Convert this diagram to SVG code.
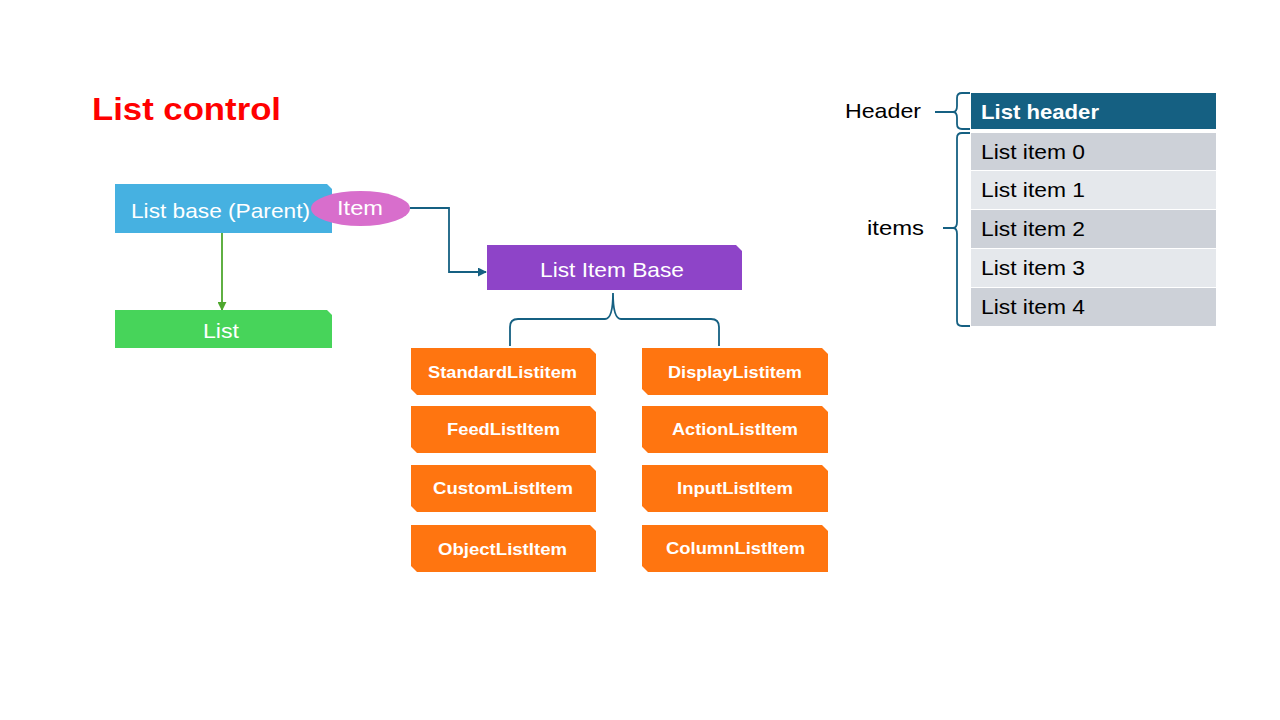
<svg xmlns="http://www.w3.org/2000/svg" width="1280" height="720" viewBox="0 0 1280 720">
<defs>
<style>
text{font-family:"Liberation Sans",Arial,sans-serif}
.w{fill:#fff;font-size:21px}
.o{fill:#FF7510}
.ot{fill:#fff;font-size:16.5px;font-weight:bold}
.blk{fill:#000;font-size:21px}
.row1{fill:#CDD1D8}
.row2{fill:#E5E8EC}
.conn{fill:none;stroke:#156082;stroke-width:1.8}
</style>
<marker id="arB" viewBox="0 0 10 10" refX="9" refY="5" markerWidth="5" markerHeight="5" orient="auto"><path d="M0,0L10,5L0,10z" fill="#156082"/></marker>
<marker id="arG" viewBox="0 0 10 10" refX="9" refY="5" markerWidth="5" markerHeight="5" orient="auto"><path d="M0,0L10,5L0,10z" fill="#4EA72E"/></marker>
</defs>
<rect width="1280" height="720" fill="#fff"/>
<text x="92" y="120" textLength="189" lengthAdjust="spacingAndGlyphs" style="fill:#FF0000;font-size:32px;font-weight:bold">List control</text>

<g id="connectors">
<line x1="222" y1="233" x2="222" y2="310" stroke="#4EA72E" stroke-width="1.8" marker-end="url(#arG)"/>
<polyline class="conn" points="410,208 449,208 449,272 486,272" marker-end="url(#arB)"/>
<path class="conn" d="M613,293 Q613,319 605,319 L518,319 Q510,319 510,327 L510,346 M613,293 Q613,319 621,319 L711,319 Q719,319 719,327 L719,346"/>
</g>

<g id="listbase">
<path d="M115,184 H327 L332,189 V233 H115 Z" fill="#46B1E1"/>
<text x="131" y="218" class="w" textLength="179" lengthAdjust="spacingAndGlyphs">List base (Parent)</text>
</g>
<g id="item">
<ellipse cx="360.5" cy="208.5" rx="49.5" ry="17.5" fill="#D86ECC"/>
<text x="337" y="215" class="w" textLength="46" lengthAdjust="spacingAndGlyphs">Item</text>
</g>
<g id="list">
<path d="M115,310 H327 L332,315 V348 H115 Z" fill="#47D45A"/>
<text x="203" y="338" class="w" textLength="36" lengthAdjust="spacingAndGlyphs">List</text>
</g>
<g id="listitembase">
<path d="M487,245 H736 L742,251 V290 H487 Z" fill="#8E44C8"/>
<text x="540" y="277" class="w" textLength="144" lengthAdjust="spacingAndGlyphs">List Item Base</text>
</g>

<g id="standard"><path class="o" d="M411,348 H590 L596,354 V395 H417 L411,389 Z"/><text x="428" y="378" class="ot" textLength="149" lengthAdjust="spacingAndGlyphs">StandardListitem</text></g>
<g id="feed"><path class="o" d="M411,406 H590 L596,412 V453 H417 L411,447 Z"/><text x="447" y="435" class="ot" textLength="113" lengthAdjust="spacingAndGlyphs">FeedListItem</text></g>
<g id="custom"><path class="o" d="M411,465 H590 L596,471 V512 H417 L411,506 Z"/><text x="433" y="494" class="ot" textLength="140" lengthAdjust="spacingAndGlyphs">CustomListItem</text></g>
<g id="object"><path class="o" d="M411,525 H590 L596,531 V572 H417 L411,566 Z"/><text x="438" y="555" class="ot" textLength="129" lengthAdjust="spacingAndGlyphs">ObjectListItem</text></g>
<g id="display"><path class="o" d="M642,348 H822 L828,354 V395 H648 L642,389 Z"/><text x="668" y="378" class="ot" textLength="134" lengthAdjust="spacingAndGlyphs">DisplayListitem</text></g>
<g id="action"><path class="o" d="M642,406 H822 L828,412 V453 H648 L642,447 Z"/><text x="672" y="435" class="ot" textLength="126" lengthAdjust="spacingAndGlyphs">ActionListItem</text></g>
<g id="input"><path class="o" d="M642,465 H822 L828,471 V512 H648 L642,506 Z"/><text x="677" y="494" class="ot" textLength="116" lengthAdjust="spacingAndGlyphs">InputListItem</text></g>
<g id="column"><path class="o" d="M642,525 H822 L828,531 V572 H648 L642,566 Z"/><text x="666" y="554" class="ot" textLength="139" lengthAdjust="spacingAndGlyphs">ColumnListItem</text></g>

<g id="table">
<rect x="971" y="93" width="245" height="36" fill="#156082"/>
<text x="981" y="119" textLength="118" lengthAdjust="spacingAndGlyphs" style="fill:#fff;font-size:21px;font-weight:bold">List header</text>
<rect x="971" y="133" width="245" height="37" class="row1"/>
<rect x="971" y="171" width="245" height="38" class="row2"/>
<rect x="971" y="210" width="245" height="38" class="row1"/>
<rect x="971" y="249" width="245" height="38" class="row2"/>
<rect x="971" y="288" width="245" height="38" class="row1"/>
<text x="981" y="159" class="blk" textLength="104" lengthAdjust="spacingAndGlyphs">List item 0</text>
<text x="981" y="197" class="blk" textLength="104" lengthAdjust="spacingAndGlyphs">List item 1</text>
<text x="981" y="236" class="blk" textLength="104" lengthAdjust="spacingAndGlyphs">List item 2</text>
<text x="981" y="275" class="blk" textLength="104" lengthAdjust="spacingAndGlyphs">List item 3</text>
<text x="981" y="314" class="blk" textLength="104" lengthAdjust="spacingAndGlyphs">List item 4</text>
</g>
<g id="labels">
<text x="845" y="118" class="blk" textLength="76" lengthAdjust="spacingAndGlyphs">Header</text>
<text x="867" y="235" class="blk" textLength="57" lengthAdjust="spacingAndGlyphs">items</text>
<path class="conn" d="M935,112 L953,112 Q957,112 957,106 L957,98 Q957,93 962,93 L970,93 M953,112 Q957,112 957,118 L957,124 Q957,129 962,129 L970,129"/>
<path class="conn" d="M943,228 L953,228 Q957,228 957,222 L957,138 Q957,133 962,133 L970,133 M953,228 Q957,228 957,234 L957,321 Q957,326 962,326 L970,326"/>
</g>
</svg>
